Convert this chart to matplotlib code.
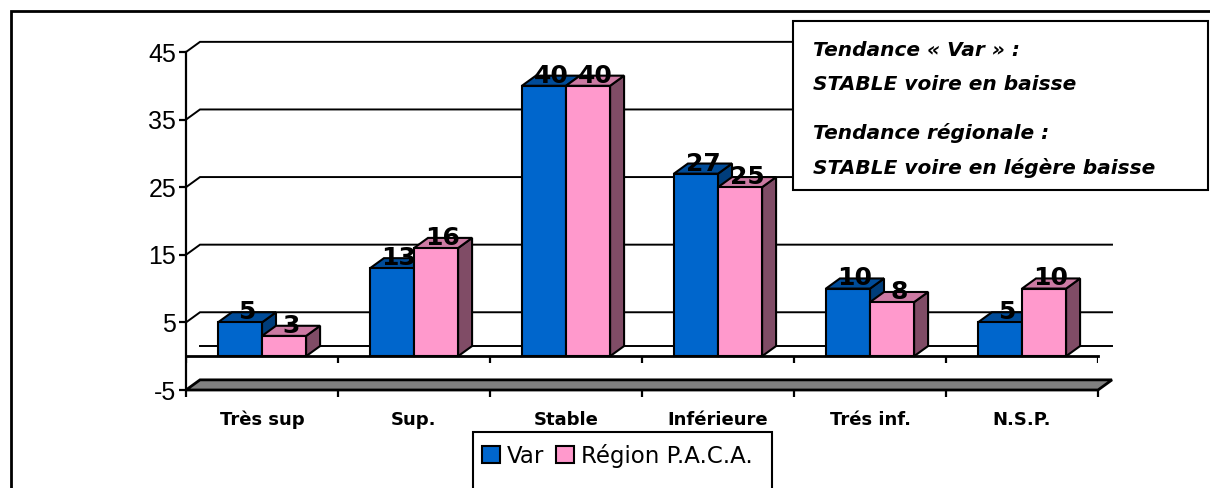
import matplotlib
matplotlib.use("Agg")
import matplotlib.pyplot as plt
from matplotlib.patches import Polygon, Rectangle, Patch
import numpy as np

# data
categories = ["Très sup", "Sup.", "Stable", "Inférieure", "Trés inf.", "N.S.P."]
var_values = [5, 13, 40, 27, 10, 5]
paca_values = [3, 16, 40, 25, 8, 10]
series_names = ["Var", "Région P.A.C.A."]
y_ticks = [-5, 5, 15, 25, 35, 45]
note_lines = ["Tendance « Var » :", "STABLE voire en baisse",
              "Tendance régionale :", "STABLE voire en légère baisse"]

# colours (front, top, side)
blue = ("#0066CC", "#004C99", "#003D7A")
pink = ("#FF99CC", "#CC7AA3", "#804C66")
W, H = 1210, 488

fig = plt.figure(figsize=(W / 100, H / 100), dpi=100)
fig.patch.set_facecolor("white")

# axes placed so that x 0..6 -> px 186..1098 and y -5..45 -> px 390..52
ax = fig.add_axes([186 / W, 1 - 390 / H, (1098 - 186) / W, (390 - 52) / H])
ax.set_xlim(0, len(categories))
ax.set_ylim(-5, 45)
ax.patch.set_alpha(0)
for s in ["top", "right", "bottom"]:
    ax.spines[s].set_visible(False)
ax.spines["left"].set_linewidth(1.6)

n = len(categories)
dx = 14 / 152      # depth offset, x
dy = 1.5           # depth offset, y
gap = 0.21
bw = 0.29
lw = 1.5

# floor slab at -5
y0 = y_ticks[0]
ax.add_patch(Polygon([(0, y0), (dx, y0 + dy), (n + dx, y0 + dy), (n, y0)],
                     closed=True, facecolor="#808080", edgecolor="black",
                     lw=2, zorder=1, clip_on=False))

# back gridlines and side diagonals
for v in y_ticks[1:]:
    ax.plot([0, dx, n + dx], [v, v + dy, v + dy], color="black", lw=1.4,
            zorder=1, clip_on=False, solid_joinstyle="miter")
ax.plot([dx, n + dx], [dy, dy], color="black", lw=1.4, zorder=1, clip_on=False)

# front base line at 0 with category ticks
ax.plot([0, n], [0, 0], color="black", lw=2, zorder=2, clip_on=False)
ax.vlines(np.arange(n + 1), -1.0, 0, color="black", lw=1.6, zorder=2)


def bar3d(x0, v, cols, z):
    x1 = x0 + bw
    # side
    ax.add_patch(Polygon([(x1, 0), (x1 + dx, dy), (x1 + dx, v + dy), (x1, v)],
                         closed=True, facecolor=cols[2], edgecolor="black",
                         lw=lw, zorder=z, joinstyle="miter"))
    # top
    ax.add_patch(Polygon([(x0, v), (x0 + dx, v + dy), (x1 + dx, v + dy), (x1, v)],
                         closed=True, facecolor=cols[1], edgecolor="black",
                         lw=lw, zorder=z, joinstyle="miter", clip_on=False))
    # front
    ax.bar(x0, v, width=bw, align="edge", color=cols[0], edgecolor="black",
           lw=lw, zorder=z)


z = 3
for i in range(n):
    xb = i + gap
    bar3d(xb, var_values[i], blue, z)
    bar3d(xb + bw, paca_values[i], pink, z + 0.1)
    z += 0.2

z_lab = 10
for i in range(n):
    for k, vals in enumerate([var_values, paca_values]):
        xc = i + gap + bw * k + bw / 2 + dx / 2
        ax.text(xc, vals[i] + dy, str(vals[i]), ha="center", va="center",
                fontsize=18, fontweight="bold", family="DejaVu Sans",
                zorder=z_lab)

# y ticks
ax.set_yticks(y_ticks)
ax.set_yticklabels([str(v) for v in y_ticks], family="Liberation Sans", fontsize=18)
ax.tick_params(axis="y", direction="out", length=5, width=1.6, pad=2)

# x ticks: marks at boundaries, labels at centres
ax.set_xticks(np.arange(n + 1))
ax.set_xticklabels([])
ax.set_xticks(np.arange(n) + 0.5, minor=True)
ax.set_xticklabels(categories, minor=True, family="DejaVu Sans", fontweight="bold",
                   fontsize=13)
ax.tick_params(axis="x", which="major", direction="out", length=5, width=1.6)
ax.tick_params(axis="x", which="minor", length=0, pad=15)

# outer frame (left and top visible)
fig.add_artist(Rectangle((11 / W, -0.2), 1.2, 1.2 - 11 / H, fill=False,
                         edgecolor="black", lw=2, transform=fig.transFigure))

# note box
fig.add_artist(Rectangle((793 / W, 1 - 190 / H), (1208 - 793) / W, (190 - 21) / H,
                         facecolor="white", edgecolor="black", lw=1.5,
                         transform=fig.transFigure, zorder=5))
for txt, yp in zip(note_lines, [50, 85, 133, 168]):
    fig.text(813 / W, 1 - yp / H, txt, ha="left", va="center", fontsize=14.5,
             fontweight="bold", fontstyle="italic", family="DejaVu Sans", zorder=6)

# legend box (runs off the bottom edge) and entries
fig.add_artist(Rectangle((473 / W, -0.05), (772 - 473) / W, 0.05 + 1 - 432 / H,
                         facecolor="white", edgecolor="black", lw=1.5,
                         transform=fig.transFigure, zorder=5))
handles = [Patch(facecolor=blue[0], edgecolor="black", lw=1.5),
           Patch(facecolor=pink[0], edgecolor="black", lw=1.5)]
leg = fig.legend(handles, series_names, loc="upper left", ncol=2,
                 bbox_to_anchor=(477 / W, 1 - 439 / H), frameon=False,
                 prop={"family": "DejaVu Sans", "size": 16.5},
                 handlelength=0.8, handleheight=0.8, handletextpad=0.3,
                 columnspacing=0.5, borderpad=0.2, borderaxespad=0)
leg.set_zorder(6)

fig.savefig("out.png", dpi=100, facecolor="white")
